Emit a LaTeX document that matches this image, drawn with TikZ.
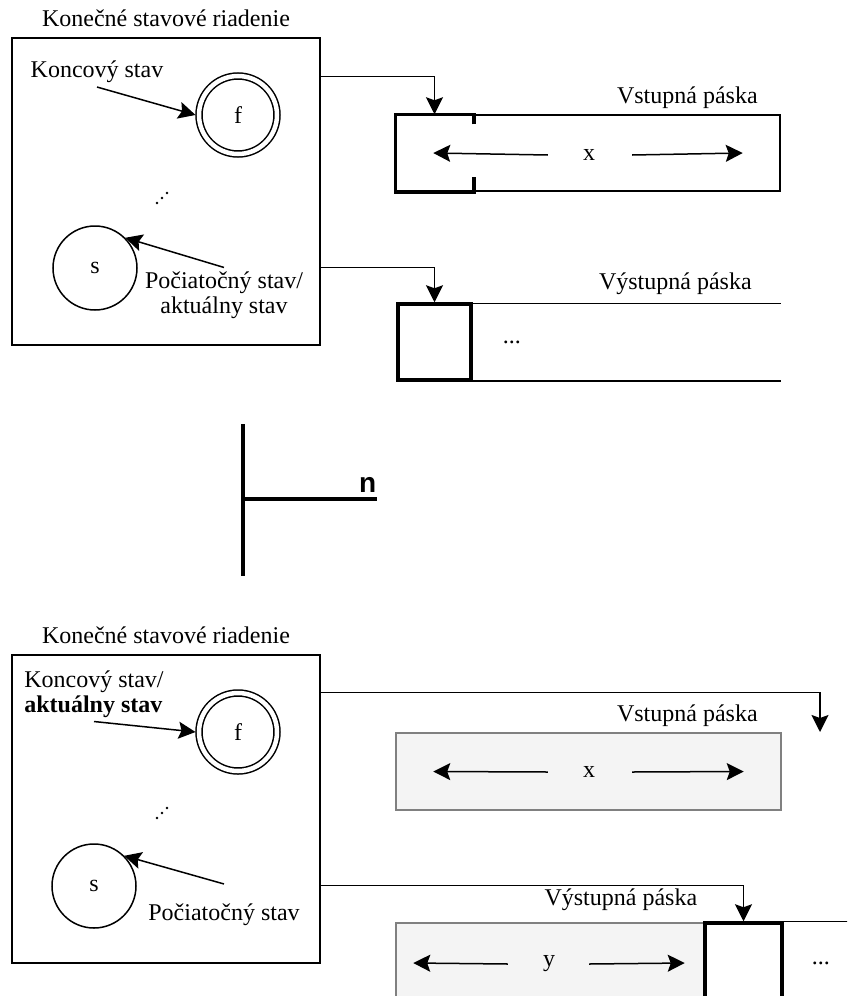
\documentclass[tikz,border=0pt]{standalone}
\usepackage{fontspec}
\setmainfont{Liberation Serif}
\newfontfamily\labelsans{Liberation Sans}
\usepackage{xcolor}
\usetikzlibrary{arrows.meta,positioning}
\definecolor{tapefill}{HTML}{F4F4F4}
\definecolor{tapeline}{HTML}{808080}
\tikzset{arr/.style={-{Stealth[length=17pt,width=17pt,inset=3pt]}}}

\begin{document}
\begin{tikzpicture}[x=1pt, y=-1pt, line width=1.5pt,
    every node/.style={font=\fontsize{24}{25}\selectfont},
    ctrl/.style={rectangle, draw, minimum width=308pt, minimum height=307pt},
    state/.style={circle, draw, minimum size=84pt, inner sep=0pt},
    final/.style={circle, draw, double, double distance=4.5pt, minimum size=78pt, inner sep=0pt, outer sep=3.5pt},
    cell/.style={rectangle, minimum width=77pt, minimum height=76pt, inner sep=0pt},
    tape/.style={rectangle, minimum height=76pt, inner sep=0pt},
    head/.style={line width=3.5pt},
    bar/.style={line width=4pt},
    greytape/.style={tape, draw=tapeline, fill=tapefill}]
    \useasboundingbox (0,0) rectangle (847,996);
    \clip (0,0) rectangle (847,996);

    \node (ctrlA) [ctrl] at (166,191.5) {};
    \node (titleA) [above=6pt of ctrlA] {Konečné stavové riadenie};
    \node (finA) [final] at (238,115) {f};
    \node (startA) [state] at (95,268) {s};
    \node (koncA) at (97,72) {Koncový stav};
    \foreach \d in {0,5,10} \fill (157+\d,203-\d) circle (1.3pt);
    \node (pocA) [align=center] at (224,295) {Počiatočný stav/\\aktuálny stav};
    \draw[arr] (koncA.south) -- (finA.west);
    \draw[arr] (pocA.north) -- (startA.45);

    \node (tapeA) [tape, draw, minimum width=384pt] at (588,153) {};
    \node (headA) [cell] at (434.5,153) {};
    \draw[head] ([yshift=-10pt]headA.north east) -- (headA.north east) -- (headA.north west) -- (headA.south west) -- (headA.south east) -- ([yshift=15pt]headA.south east);
    \node (labA) [above left=2pt and 19pt of tapeA.north east] {Vstupná páska};
    \node (xA) at (589,155) {x};
    \draw[arr] ([xshift=-31pt]xA.west) -- ([xshift=38pt]tapeA.west);
    \draw[arr] ([xshift=33pt]xA.east) -- ([xshift=-38pt]tapeA.east);
    \draw[arr] ([yshift=-39pt]ctrlA.north east) -| (headA.north);

    \node (tapeB) [tape, minimum width=382pt] at (589,342) {};
    \draw (tapeB.north west) -- (tapeB.north east) (tapeB.south west) -- (tapeB.south east);
    \node (headB) [cell, draw, head, minimum width=73pt] at (434.5,342) {};
    \node (dotsB) [right=26pt of headB] {...};
    \node (labB) [above left=4pt and 25pt of tapeB.north east] {Výstupná páska};
    \draw[arr] ([yshift=-230pt]ctrlA.north east) -| (headB.north);

    \draw[bar] (243,424) -- (243,576);
    \draw[bar] (243,499) -- (377,499);
    \node (nlab) [anchor=south east, inner sep=0pt, font=\labelsans\bfseries\fontsize{28}{30}\selectfont] at (377,493) {n};

    \node (ctrlB) [ctrl, minimum height=308pt] at (166,809) {};
    \node (titleB) [above=6pt of ctrlB] {Konečné stavové riadenie};
    \node (finB) [final] at (238,732) {f};
    \node (startB) [state] at (94,886) {s};
    \node (koncB) [align=left] at (94,694) {Koncový stav/\\\textbf{aktuálny stav}};
    \foreach \d in {0,5,10} \fill (157+\d,818-\d) circle (1.3pt);
    \node (pocB) at (224,915) {Počiatočný stav};
    \draw[arr] (koncB.south) -- (finB.west);
    \draw[arr] ([yshift=16pt]pocB.north) -- (startB.45);

    \node (tapeC) [greytape, minimum width=385pt, minimum height=77pt] at (588.5,771.5) {};
    \node (labC) [above left=2pt and 20pt of tapeC.north east] {Vstupná páska};
    \node (xC) at (589,772) {x};
    \draw[arr] ([xshift=-31pt]xC.west) -- ([xshift=38pt]tapeC.west);
    \draw[arr] ([xshift=33pt]xC.east) -- ([xshift=-38pt]tapeC.east);
    \coordinate (readC) at (820,732);
    \draw[arr] ([yshift=-38pt]ctrlB.north east) -| (readC);

    \node (tapeD) [greytape, minimum width=309pt, minimum height=80pt] at (550.5,963) {};
    \node (headD) [cell, draw, head, minimum height=80pt] at (743.5,963) {};
    \draw (headD.north east) -- ++(80,0);
    \node (dotsD) [right=24pt of headD] {...};
    \node (labD) [above left=6pt and 2pt of headD.north west] {Výstupná páska};
    \node (yD) at (549,964) {y};
    \draw[arr] ([xshift=-31pt]yD.west) -- ([xshift=18pt]tapeD.west);
    \draw[arr] ([xshift=30pt]yD.east) -- ([xshift=-21pt]tapeD.east);
    \draw[arr] ([yshift=-231pt]ctrlB.north east) -| (headD.north);
\end{tikzpicture}
\end{document}
